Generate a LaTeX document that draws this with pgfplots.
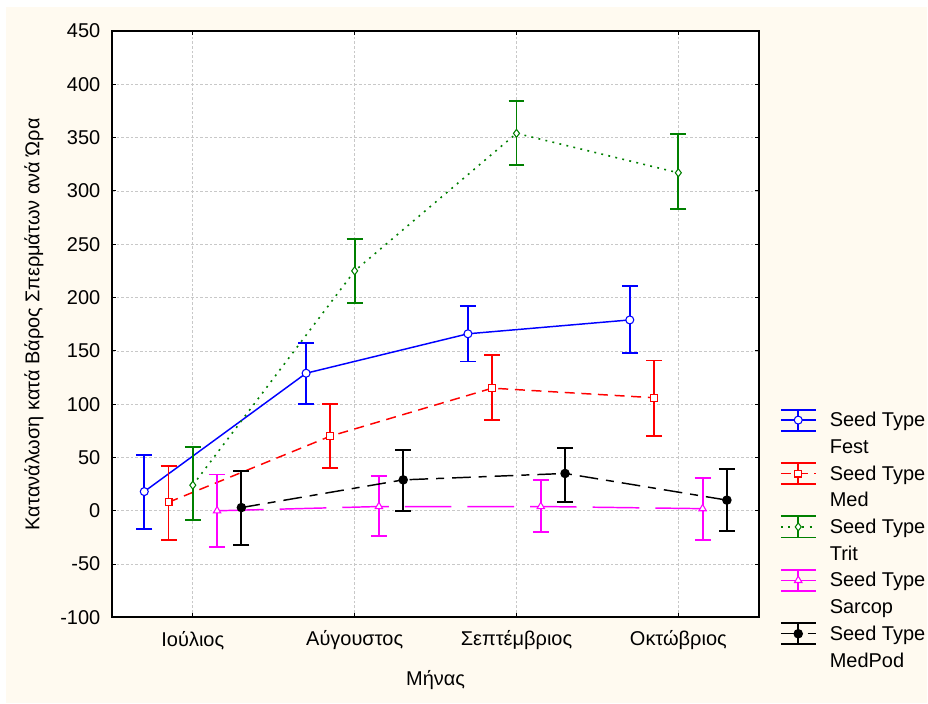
\documentclass[border=0pt]{standalone}
\usepackage{pgfplots}
\usepackage{pgfplotstable}
\pgfplotsset{compat=1.18}
\usepackage{fontspec}
\setmainfont{Liberation Sans}

\definecolor{paper}{RGB}{255,250,240}
\definecolor{gridgray}{RGB}{200,200,200}
\definecolor{festblue}{RGB}{0,0,255}
\definecolor{medred}{RGB}{255,0,0}
\definecolor{tritgreen}{RGB}{0,128,0}
\definecolor{sarcmag}{RGB}{255,0,255}

% mean, upper and lower half-widths of the error bars; x = month index + series offset
\pgfplotstableread{
x     y    ep    em
-0.30 18   34    35
0.70  129  28    29
1.70  166  26    26
2.70  179  32    31
}\fest
\pgfplotstableread{
x     y    ep    em
-0.15 8    34    35
0.85  70   30    30
1.85  115  31    30
2.85  106  35    36
}\med
\pgfplotstableread{
x     y    ep    em
0.00  24   36    33
1.00  225  30    30
2.00  354  30    30
3.00  317  36    34
}\trit
\pgfplotstableread{
x     y    ep    em
0.15  0    34    34
1.15  4    29    28
2.15  4    25    24
3.15  2    29    29
}\sarcop
\pgfplotstableread{
x     y    ep    em
0.30  3    34    35
1.30  29   28    29
2.30  35   24    27
3.30  10   29    29
}\medpod

\begin{document}
\begin{tikzpicture}[x=1pt,y=1pt]
\fill[white] (0,0) rectangle (696,528);
\fill[paper] (4.5,0) rectangle (696,522.75);
\begin{axis}[
  at={(84pt,64.5pt)}, anchor=south west,
  scale only axis, width=486pt, height=440.25pt,
  axis background/.style={fill=white},
  xmin=-0.5, xmax=3.5, ymin=-100, ymax=450,
  xtick={0,1,2,3},
  xticklabels={Ιούλιος,Αύγουστος,Σεπτέμβριος,Οκτώβριος},
  ytick={-100,-50,...,450},
  /pgf/number format/assume math mode=true,
  tick label style={font=\fontsize{15}{18}\selectfont},
  every x tick label/.append style={anchor=center, yshift=-17.25pt},
  every y tick label/.append style={anchor=east, inner sep=0pt, xshift=-8.5pt},
  grid=major,
  major grid style={gridgray, line width=0.5pt, dash pattern=on 2pt off 1.5pt},
  axis line style={line width=1.4pt},
  tick style={black, line width=0.8pt},
  major tick length=3pt,
  xlabel={Μήνας},
  ylabel={Κατανάλωση κατά Βάρος Σπερμάτων ανά Ώρα},
  every axis x label/.style={at={(axis description cs:0.5,-0.1073)}, anchor=center,
    font=\fontsize{15}{18}\selectfont},
  every axis y label/.style={at={(axis description cs:-0.1204,0.5)}, rotate=90, anchor=center,
    font=\fontsize{15}{18}\selectfont},
  error bars/y dir=both,
  error bars/y explicit,
  error bars/error bar style={line width=1.4pt, solid},
  error bars/error mark options={rotate=90, line width=1.4pt, mark size=6pt, solid},
  legend image code/.code={
    \draw[#1, solid, mark=none, line width=1.4pt]
      (0pt,17.1pt) -- (26pt,17.1pt)
      (0pt,32.9pt) -- (26pt,32.9pt)
      (13pt,17.1pt) -- (13pt,32.9pt);
    \draw[mark repeat=2, mark phase=2, #1] plot coordinates {(0pt,25pt) (13pt,25pt) (26pt,25pt)};
  },
  legend style={
    at={(1.032,0.356)}, anchor=north west,
    draw=none, fill=none, inner sep=0pt, outer sep=0pt,
    font=\fontsize{15}{20}\selectfont,
    cells={anchor=base west, align=left},
    column sep=8pt, row sep=3pt,
  },
]
\addplot[festblue, line width=1.1pt, mark=*, mark size=3pt,
  mark options={fill=white, solid, line width=0.8pt}]
  table[x=x, y=y, y error plus=ep, y error minus=em] {\fest};
\addlegendentry{Seed Type\\Fest}
\addplot[medred, line width=1.1pt, dash pattern=on 7.5pt off 5pt, mark=square*, mark size=2.6pt,
  mark options={fill=white, solid, line width=0.8pt}]
  table[x=x, y=y, y error plus=ep, y error minus=em] {\med};
\addlegendentry{Seed Type\\Med}
\addplot[tritgreen, line width=1.2pt, dash pattern=on 1.4pt off 4pt, mark=diamond*, mark size=3pt,
  mark options={fill=white, solid, line width=0.8pt}]
  table[x=x, y=y, y error plus=ep, y error minus=em] {\trit};
\addlegendentry{Seed Type\\Trit}
\addplot[sarcmag, line width=1.1pt, dash pattern=on 35pt off 12pt, mark=triangle*, mark size=3.2pt,
  mark options={fill=white, solid, line width=0.8pt}]
  table[x=x, y=y, y error plus=ep, y error minus=em] {\sarcop};
\addlegendentry{Seed Type\\Sarcop}
\addplot[black, line width=1.1pt, dash pattern=on 14pt off 6pt on 6pt off 6pt, mark=*, mark size=3pt,
  mark options={fill=black, solid}]
  table[x=x, y=y, y error plus=ep, y error minus=em] {\medpod};
\addlegendentry{Seed Type\\MedPod}
\end{axis}
\end{tikzpicture}
\end{document}
